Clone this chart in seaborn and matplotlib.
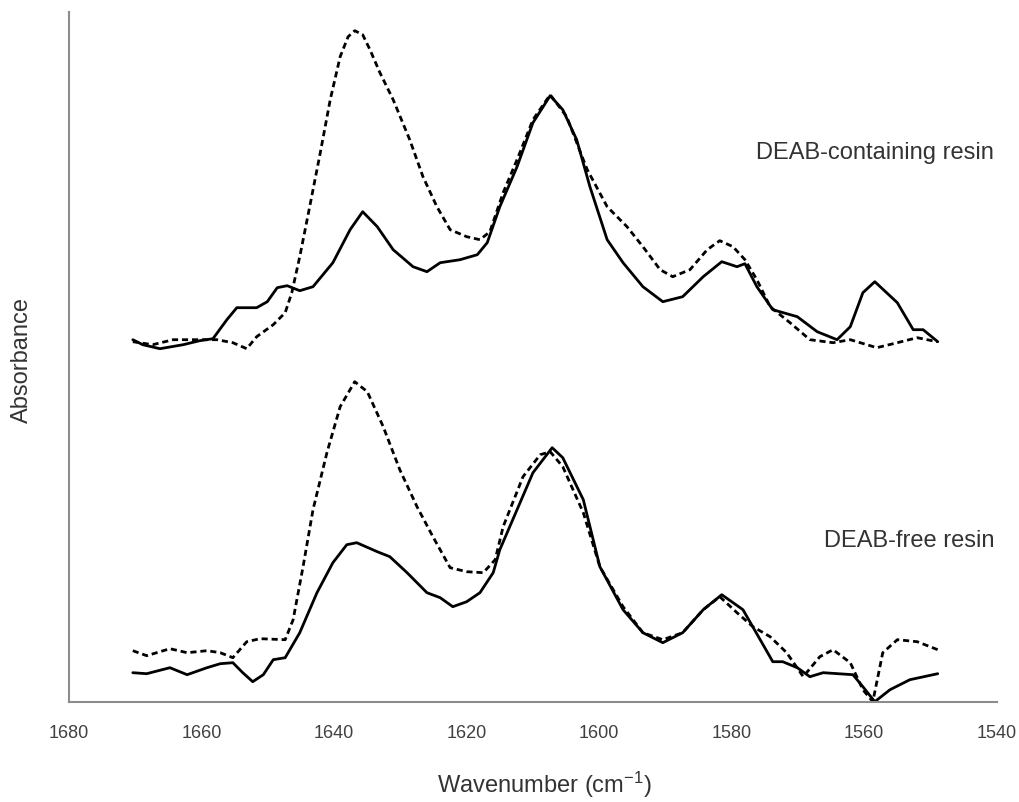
import matplotlib
matplotlib.use("Agg")
import matplotlib.pyplot as plt
import seaborn as sns
import numpy as np

# DEAB-containing resin, solid trace
top_solid_wn = [1670.4, 1668.9, 1666.3, 1662.8, 1660.3, 1658.3, 1656.2, 1654.7, 1651.7, 1650.1,
                1648.6, 1647.1, 1645.2, 1643.2, 1640.2, 1637.6, 1635.7, 1633.5, 1631.1, 1628.1,
                1626.0, 1624.0, 1621.0, 1618.4, 1616.9, 1615.0, 1612.4, 1610.0, 1607.4, 1605.5,
                1603.4, 1601.4, 1598.8, 1596.4, 1593.4, 1590.4, 1587.4, 1584.3, 1581.5, 1579.2,
                1578.0, 1576.2, 1573.8, 1570.1, 1567.1, 1564.1, 1562.1, 1560.2, 1558.4, 1555.0,
                1552.6, 1551.1, 1548.9]
top_solid_abs = [3.62, 3.57, 3.53, 3.57, 3.61, 3.63, 3.82, 3.94, 3.94, 4.00,
                 4.14, 4.16, 4.11, 4.15, 4.39, 4.72, 4.90, 4.75, 4.52, 4.35,
                 4.30, 4.39, 4.42, 4.47, 4.59, 4.95, 5.35, 5.79, 6.06, 5.92,
                 5.62, 5.15, 4.62, 4.39, 4.15, 4.00, 4.05, 4.25, 4.40, 4.35,
                 4.38, 4.15, 3.92, 3.85, 3.70, 3.62, 3.75, 4.09, 4.20, 3.99,
                 3.72, 3.72, 3.60]

# DEAB-containing resin, dashed trace
top_dash_wn = [1670.4, 1667.4, 1664.3, 1660.3, 1657.7, 1655.3, 1653.2, 1651.7, 1649.2, 1647.4,
               1646.4, 1645.2, 1643.7, 1642.1, 1640.6, 1639.1, 1637.9, 1636.9, 1635.7, 1634.6,
               1633.1, 1631.1, 1628.6, 1626.6, 1624.5, 1622.5, 1620.0, 1618.0, 1616.5, 1614.5,
               1612.4, 1610.0, 1607.4, 1604.9, 1602.4, 1601.8, 1598.8, 1595.8, 1593.4, 1590.8,
               1588.9, 1586.3, 1583.7, 1581.8, 1579.8, 1578.0, 1576.2, 1574.2, 1571.2, 1568.2,
               1564.7, 1562.1, 1558.1, 1555.0, 1552.0, 1549.0]
top_dash_abs = [3.60, 3.57, 3.62, 3.62, 3.62, 3.59, 3.53, 3.65, 3.77, 3.89,
                4.09, 4.45, 4.95, 5.49, 6.02, 6.45, 6.65, 6.71, 6.67, 6.52,
                6.29, 6.02, 5.62, 5.25, 4.95, 4.72, 4.65, 4.62, 4.70, 5.09,
                5.42, 5.82, 6.07, 5.85, 5.42, 5.32, 4.95, 4.75, 4.55, 4.32,
                4.25, 4.32, 4.52, 4.61, 4.55, 4.42, 4.22, 3.95, 3.79, 3.62,
                3.59, 3.62, 3.54, 3.59, 3.64, 3.60]

# DEAB-free resin, solid trace
bot_solid_wn = [1670.4, 1668.3, 1664.8, 1662.2, 1659.2, 1657.2, 1655.3, 1653.8, 1652.3, 1650.7,
                1649.2, 1647.4, 1645.2, 1642.6, 1640.2, 1638.1, 1636.6, 1633.5, 1631.6, 1629.0,
                1626.0, 1624.0, 1622.1, 1620.0, 1618.0, 1616.0, 1615.0, 1612.4, 1610.0, 1607.1,
                1605.5, 1602.4, 1599.9, 1596.4, 1593.4, 1590.4, 1587.4, 1584.3, 1581.5, 1578.3,
                1575.7, 1573.8, 1572.3, 1570.1, 1568.2, 1566.2, 1561.7, 1560.2, 1558.4, 1556.1,
                1553.1, 1548.9]
bot_solid_abs = [0.29, 0.28, 0.34, 0.27, 0.34, 0.38, 0.39, 0.29, 0.20, 0.27,
                 0.42, 0.44, 0.69, 1.09, 1.39, 1.57, 1.59, 1.50, 1.45, 1.29,
                 1.09, 1.04, 0.95, 1.00, 1.09, 1.29, 1.52, 1.92, 2.29, 2.54,
                 2.44, 2.02, 1.35, 0.92, 0.69, 0.59, 0.69, 0.92, 1.07, 0.92,
                 0.62, 0.40, 0.40, 0.34, 0.25, 0.29, 0.27, 0.15, 0.00, 0.12,
                 0.22, 0.28]

# DEAB-free resin, dashed trace
bot_dash_wn = [1670.4, 1668.3, 1664.8, 1662.2, 1659.2, 1657.2, 1655.3, 1653.2, 1651.2, 1647.4,
               1646.2, 1644.7, 1643.2, 1641.1, 1639.1, 1636.9, 1635.0, 1632.6, 1630.1, 1627.5,
               1625.1, 1622.5, 1620.0, 1617.5, 1615.7, 1614.5, 1611.5, 1608.9, 1607.4, 1605.5,
               1602.4, 1599.9, 1596.4, 1593.4, 1590.4, 1587.4, 1584.3, 1581.8, 1579.2, 1576.8,
               1574.2, 1571.7, 1569.2, 1566.7, 1564.7, 1562.1, 1560.2, 1558.7, 1557.2, 1555.0,
               1552.0, 1548.9]
bot_dash_abs = [0.51, 0.46, 0.53, 0.49, 0.51, 0.49, 0.44, 0.60, 0.63, 0.62,
                0.82, 1.35, 1.92, 2.49, 2.95, 3.20, 3.10, 2.75, 2.32, 1.95,
                1.65, 1.34, 1.30, 1.29, 1.42, 1.75, 2.25, 2.47, 2.50, 2.35,
                1.89, 1.35, 0.95, 0.69, 0.62, 0.69, 0.92, 1.05, 0.89, 0.75,
                0.65, 0.49, 0.25, 0.45, 0.52, 0.39, 0.12, 0.00, 0.49, 0.62,
                0.60, 0.52]

x_ticks = [1680, 1660, 1640, 1620, 1600, 1580, 1560, 1540]

sns.set_style("white")
plt.rcParams['font.family'] = ['Liberation Sans', 'DejaVu Sans']
plt.rcParams['mathtext.fontset'] = 'custom'
plt.rcParams['mathtext.rm'] = 'Liberation Sans'
plt.rcParams['mathtext.default'] = 'regular'

fig = plt.figure(figsize=(10.19, 8.03), dpi=100)
ax = fig.add_axes([69.2 / 1019, 1 - 702.7 / 803, (996.7 - 69.2) / 1019, (702.7 - 13) / 803])

for wn, ab, dashed in [(top_solid_wn, top_solid_abs, False),
                       (top_dash_wn, top_dash_abs, True),
                       (bot_solid_wn, bot_solid_abs, False),
                       (bot_dash_wn, bot_dash_abs, True)]:
    sns.lineplot(x=wn, y=ab, sort=False, estimator=None, color='black',
                 linewidth=2.0, ax=ax)
    line = ax.lines[-1]
    line.set_solid_joinstyle('round')
    line.set_dash_joinstyle('round')
    if dashed:
        line.set_linestyle((0, (2.2, 1.4)))

ax.set_xlim(1680, 1540)
ax.set_ylim(0, 6.897)
ax.set_xticks(x_ticks)
ax.set_yticks([])
ax.tick_params(axis='x', direction='out', length=6, width=1.5, color='#8c8c8c',
               labelsize=13, labelcolor='#404040', pad=10)
for side in ['top', 'right']:
    ax.spines[side].set_visible(False)
for side in ['left', 'bottom']:
    ax.spines[side].set_color('#8c8c8c')
    ax.spines[side].set_linewidth(1.5)

ax.text(1540.4, 5.44, 'DEAB-containing resin', ha='right', va='baseline',
        fontsize=17, color='#333333')
ax.text(1540.4, 1.56, 'DEAB-free resin', ha='right', va='baseline',
        fontsize=17, color='#333333')

fig.text(544 / 1019, 1 - 793 / 803, 'Wavenumber (cm$^{-1}$)', ha='center', va='baseline',
         fontsize=17, color='#333333')
fig.text(22 / 1019, 1 - 360 / 803, 'Absorbance', ha='center', va='center', rotation=90,
         fontsize=17, color='#333333')

fig.savefig('out.png', dpi=100)
